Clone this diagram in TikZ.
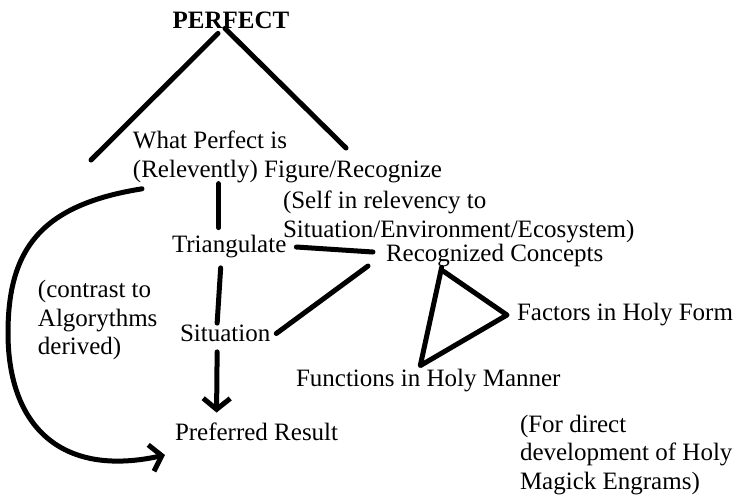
\documentclass[tikz,border=0pt]{standalone}
\usepackage{fontspec}
\setmainfont{Liberation Serif}
\usetikzlibrary{arrows.meta}

\begin{document}
\begin{tikzpicture}
  [
   x=0.5pt,y=-0.5pt,
   tn/.style={inner sep=0pt,outer sep=0pt,align=left,font=\fontsize{12.5}{14.3}\selectfont},
   hn/.style={inner sep=0pt,outer sep=0pt,font=\fontsize{12.5}{14.3}\selectfont\bfseries},
   ln/.style={line width=2.5pt,line cap=round,line join=round},
   ar/.style={ln,-{Straight Barb[length=5.5pt,width=13.5pt]}}
  ]
   \useasboundingbox (0,0) rectangle (735,495);

   \node[hn] (perfect) at (231,20) {PERFECT};
   \node[tn,anchor=west] (what) at (133,157) {What Perfect is\\(Relevently) Figure/Recognize};
   \node[tn,anchor=west] (self) at (283,217) {(Self in relevency to\\Situation/Environment/Ecosystem)};
   \node[tn,anchor=west] (tri) at (172,247) {Triangulate};
   \node[tn,anchor=west] (rc) at (386,256) {Recognized Concepts};
   \node[tn,anchor=west] (contrast) at (38,320) {(contrast to\\Algorythms\\derived)};
   \node[tn,anchor=west] (sit) at (180,333.5) {Situation};
   \node[tn,anchor=west] (fac) at (517,315) {Factors in Holy Form};
   \node[tn,anchor=west] (fun) at (296,381) {Functions in Holy Manner};
   \node[tn,anchor=west] (pref) at (175,431.5) {Preferred Result};
   \node[tn,anchor=west] (direct) at (520,455) {(For direct\\development of Holy\\Magick Engrams)};

   \coordinate (lfoot) at (91,160);
   \coordinate (rfoot) at (346,148);

   % roof over the tree
   \draw[ln] ([xshift=-6.5pt,yshift=-2.5pt]perfect.south) -- (lfoot);
   \draw[ln] ([xshift=-3pt]perfect.south) -- (rfoot);

   % main stem
   \draw[ln] ([xshift=-5.25pt,yshift=26pt]tri.north) -- ([xshift=-5.25pt,yshift=4pt]tri.north);
   \draw[ln] ([xshift=-4.25pt,yshift=-4.75pt]tri.south) -- ([xshift=-4pt,yshift=1pt]sit.north);
   \draw[ar] ([xshift=-4pt,yshift=-5pt]sit.south) -- ([xshift=-20pt,yshift=5pt]pref.north);

   % links to the concepts
   \draw[ln] ([xshift=5pt]tri.east) -- ([xshift=-6.5pt,yshift=2pt]rc.west);
   \draw[ln] ([xshift=3pt]sit.east) -- ([xshift=-9pt,yshift=-5pt]rc.west);

   % triangle
   \draw[ln] ([xshift=-26.5pt]rc.south) -- ([xshift=-4pt,yshift=2pt]fun.north)
     -- ([xshift=-5pt]fac.west) -- ([xshift=-25.5pt,yshift=-2pt]rc.south);

   % long way round
   \draw[ar] ([xshift=4.5pt,yshift=-3pt]what.south west)
     .. controls (40,205) and (8,250) .. (8,333)
     .. controls (8,425) and (60,478) .. ([xshift=-5pt,yshift=-11.75pt]pref.west);

\end{tikzpicture}
\end{document}
